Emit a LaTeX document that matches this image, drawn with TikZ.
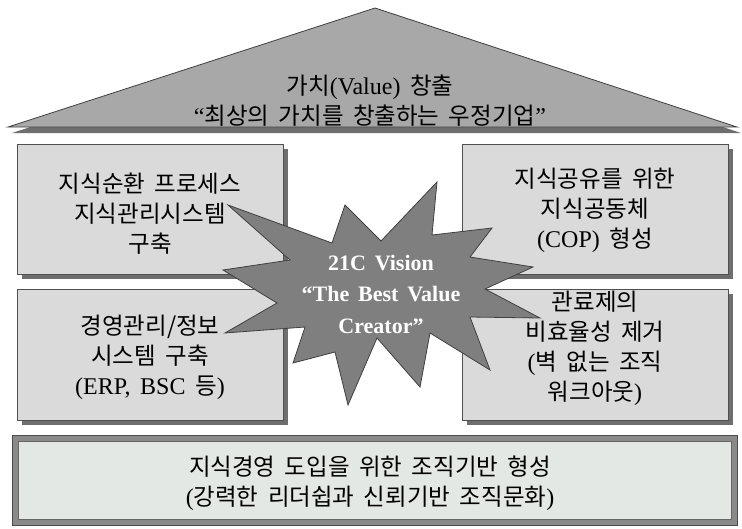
\documentclass[tikz,border=0pt]{standalone}
\usepackage{fontspec}
\setmainfont{Liberation Serif}
\newfontfamily\hangul{Noto Sans CJK KR}
\usetikzlibrary{shadows}
\definecolor{boxfill}{HTML}{DADADA}
\definecolor{boxline}{HTML}{505050}
\definecolor{shadowc}{HTML}{6E6E6E}
\definecolor{roof}{HTML}{A8A8A8}
\definecolor{starfill}{HTML}{7F7F7F}
\definecolor{basefill}{HTML}{E4E8E4}
\definecolor{baseframe}{HTML}{8A8A8A}
\newcommand\hg[1]{{\hangul\fontsize{23.5}{30}\selectfont #1}}
\newcommand\gp{\hspace{0.4em}}
\begin{document}
\begin{tikzpicture}[x=1pt,y=-1pt,
  panel/.style={draw=boxline, fill=boxfill, line width=0.8pt, minimum width=266pt, minimum height=130pt, inner sep=0pt,
    drop shadow={shadow xshift=5pt, shadow yshift=-5pt, fill=shadowc, opacity=1}},
  lbl/.style={align=center, font=\fontsize{24}{30}\selectfont, inner sep=0pt, text=black},
  startext/.style={align=center, font=\bfseries\fontsize{22}{31.5}\selectfont, text=white, inner sep=0pt}]
\useasboundingbox (0,0) rectangle (742,528);
% roof
\fill[shadowc] (379,14) -- (12,133) -- (741,133) -- cycle;
\draw[fill=roof, draw=black!75, line width=0.8pt] (375,8) -- (8,127) -- (737,127) -- cycle;
\node[lbl] (rooftext) at (370,101) {\hg{가치}(Value)\gp{}\hg{창출}\\“\hg{최상의\gp{}가치를\gp{}창출하는\gp{}우정기업}”};
% panels
\node[panel] (ul) at (150,209) {};
\node[panel] (ur) at (595,209) {};
\node[panel, minimum height=131pt] (ll) at (150,354.5) {};
\node[panel, minimum height=131pt] (lr) at (595,354.5) {};
\node[lbl] (ultext) at (150,214) {\hg{지식순환\gp{}프로세스}\\\hg{지식관리시스템}\\\hg{구축}};
\node[lbl] (urtext) at (595,210) {\hg{지식공유를\gp{}위한}\\\hg{지식공동체}\\(COP)\gp{}\hg{형성}};
\node[lbl] (lltext) at (150,357) {\hg{경영관리/정보}\\\hg{시스템\gp{}구축}\\(ERP,\gp{}BSC\gp{}\hg{등})};
\node[lbl] (lrtext) at (595,348) {\hg{관료제의}\\\hg{비효율성\gp{}제거}\\(\hg{벽\gp{}없는\gp{}조직}\\\hg{워크아웃})};
% base
\node[draw=black!70, fill=baseframe, line width=0.8pt, minimum width=725pt, minimum height=90pt, inner sep=0pt] (baseouter) at (374.5,480) {};
\node[draw=black!60, fill=basefill, line width=0.6pt, minimum width=713pt, minimum height=78pt, inner sep=0pt] (baseinner) at (374.5,480) {};
\node[lbl] (basetext) at (370,483) {\hg{지식경영\gp{}도입을\gp{}위한\gp{}조직기반\gp{}형성}\\(\hg{강력한\gp{}리더쉽과\gp{}신뢰기반\gp{}조직문화})};
% star
\draw[draw=black!75, fill=starfill, line width=0.8pt] (228,205) -- (332,243) -- (345,205) -- (381,241) -- (437,182) -- (432,235) -- (492,228) -- (470,257) -- (533,267) -- (485,289) -- (540,318) -- (470,317) -- (490,370) -- (430,333) -- (420,387) -- (377,338) -- (348,405) -- (335,352) -- (293,363) -- (305,327) -- (225,333) -- (277,303) -- (223,270) -- (290,260) -- cycle;
\node[startext] (startxt) at (381,294) {21C\gp{}Vision\\“The\gp{}Best\gp{}Value\\Creator”};
\end{tikzpicture}
\end{document}
